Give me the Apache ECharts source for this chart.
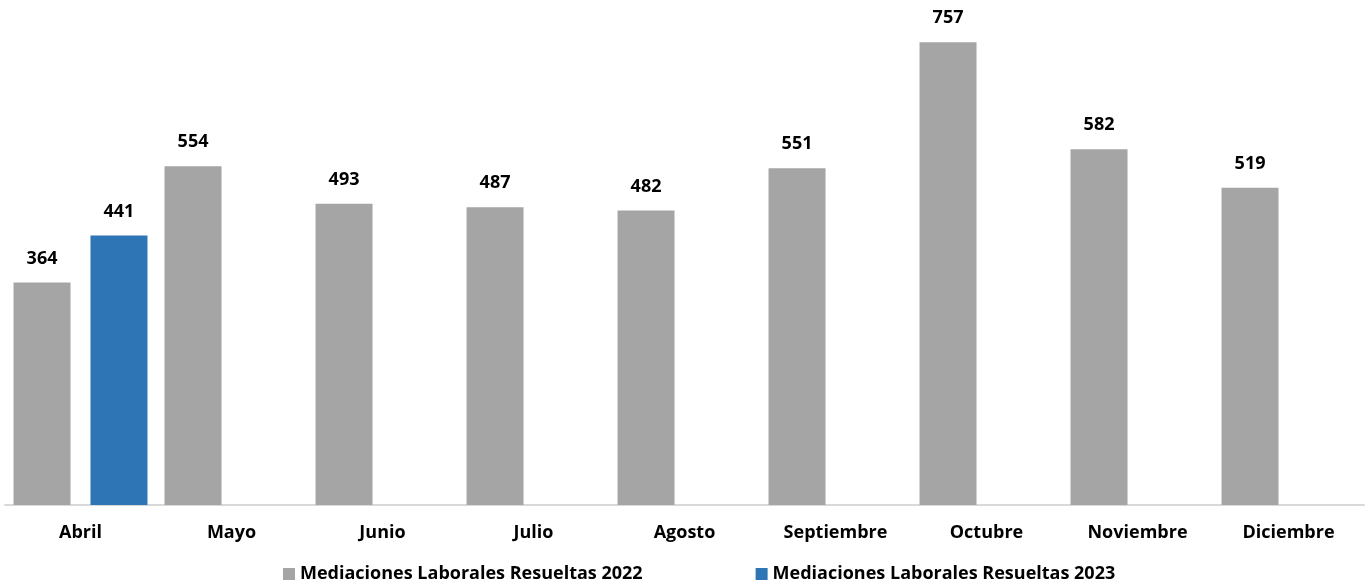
<!DOCTYPE html>
<html>
<head>
<meta charset="utf-8">
<script src="https://cdn.jsdelivr.net/npm/echarts@6/dist/echarts.min.js"></script>
<style>
  html, body { margin: 0; padding: 0; background: #fff; }
  #chart { width: 1370px; height: 586px; }
</style>
</head>
<body>
<div id="chart"></div>
<script>
// 数据
const months = ['Abril', 'Mayo', 'Junio', 'Julio', 'Agosto', 'Septiembre', 'Octubre', 'Noviembre', 'Diciembre'];
const values2022 = [364, 554, 493, 487, 482, 551, 757, 582, 519];
const values2023 = [441, null, null, null, null, null, null, null, null];
const seriesNames = ['Mediaciones Laborales Resueltas 2022', 'Mediaciones Laborales Resueltas 2023'];

const fontFamily = '"Open Sans", "Noto Sans", sans-serif';

const chart = echarts.init(document.getElementById('chart'));
chart.setOption({
    animation: false,
    textStyle: { fontFamily: fontFamily },
    grid: { left: 5, right: 6, top: 16, bottom: 81, containLabel: false },
    legend: {
        top: 565,
        left: 283,
        padding: 0,
        itemWidth: 12,
        itemHeight: 12,
        itemGap: 113,
        icon: 'rect',
        textStyle: { fontSize: 18, fontWeight: 'bold', color: '#000', fontFamily: fontFamily },
        data: seriesNames
    },
    xAxis: {
        type: 'category',
        data: months,
        axisLine: { lineStyle: { color: '#d9d9d9', width: 2 } },
        axisTick: { show: false },
        axisLabel: { fontSize: 18, fontWeight: 'bold', color: '#000', margin: 19, fontFamily: fontFamily }
    },
    yAxis: {
        type: 'value',
        min: 0,
        max: 800,
        show: false,
        splitLine: { show: false }
    },
    series: [
        {
            name: seriesNames[0],
            type: 'bar',
            data: values2022,
            barWidth: 57,
            barGap: '35%',
            itemStyle: { color: '#a5a5a5' },
            label: { show: true, position: 'top', distance: 15, fontSize: 18, fontWeight: 'bold', color: '#000', fontFamily: fontFamily }
        },
        {
            name: seriesNames[1],
            type: 'bar',
            data: values2023,
            barWidth: 57,
            itemStyle: { color: '#2e75b6' },
            label: { show: true, position: 'top', distance: 15, fontSize: 18, fontWeight: 'bold', color: '#000', fontFamily: fontFamily }
        }
    ]
});
</script>
</body>
</html>
